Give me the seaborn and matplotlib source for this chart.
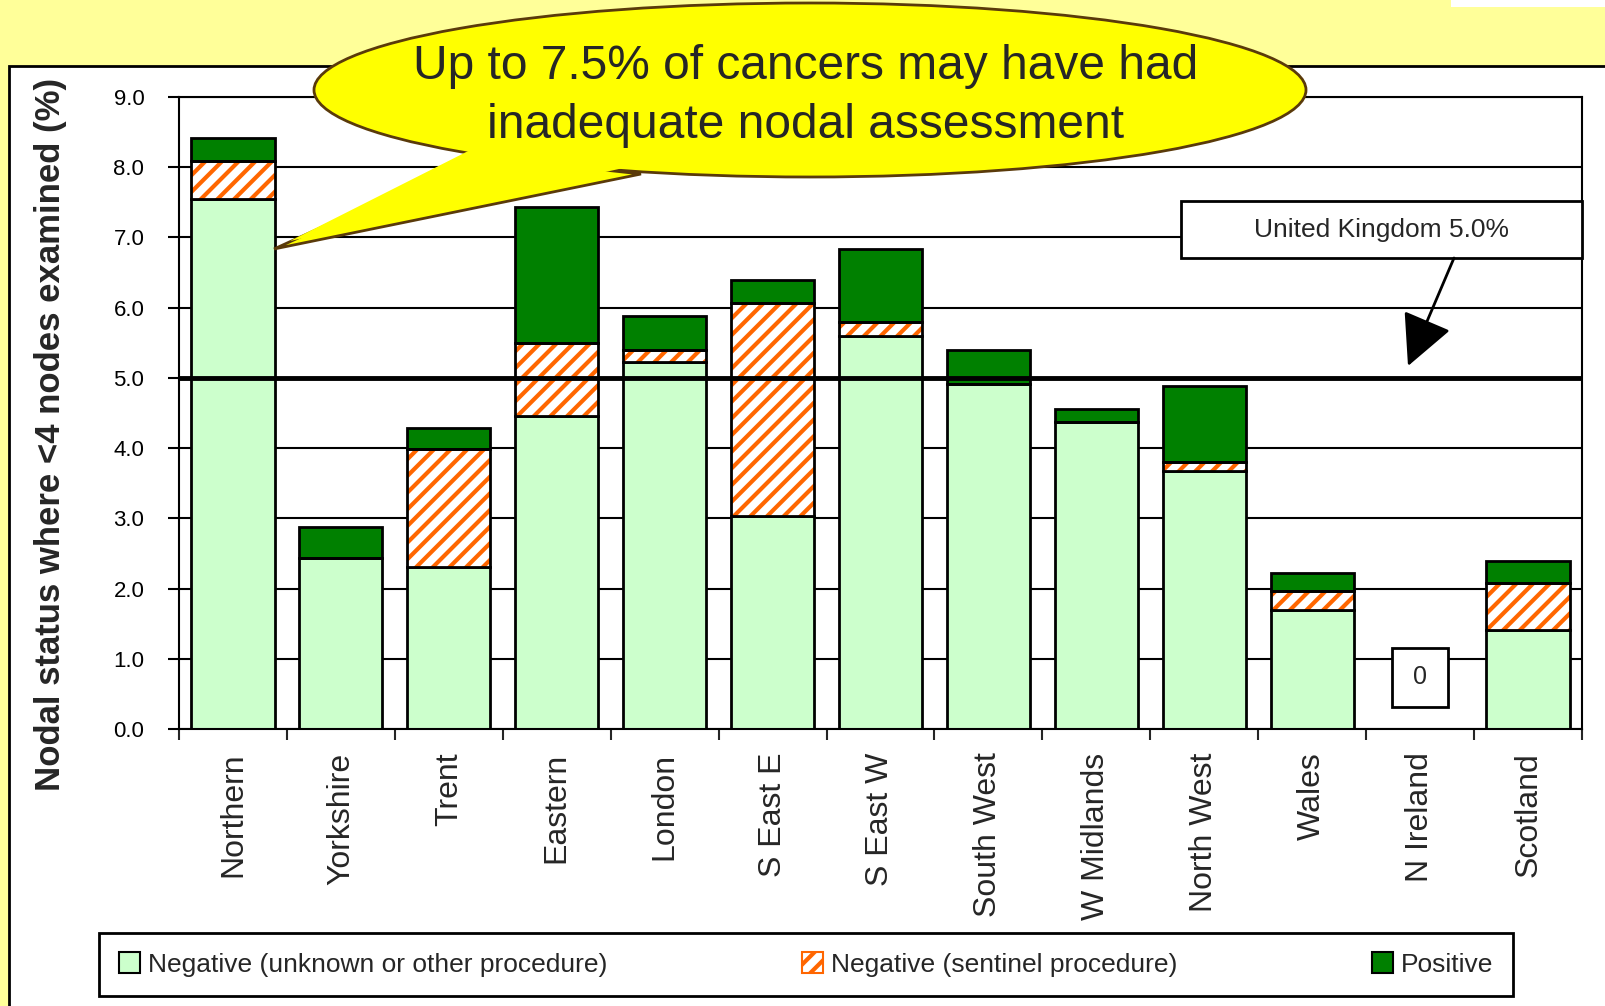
import numpy as np
import matplotlib
matplotlib.use("Agg")
import matplotlib.pyplot as plt
import matplotlib.patches as mpatches
from matplotlib.transforms import Affine2D
import seaborn as sns

regions = ["Northern", "Yorkshire", "Trent", "Eastern", "London", "S East E", "S East W",
           "South West", "W Midlands", "North West", "Wales", "N Ireland", "Scotland"]
neg_other = [7.55, 2.44, 2.31, 4.46, 5.22, 3.03, 5.60, 4.91, 4.37, 3.68, 1.70, 0.0, 1.41]
neg_sentinel = [0.54, 0.0, 1.68, 1.03, 0.18, 3.03, 0.19, 0.0, 0.0, 0.12, 0.26, 0.0, 0.67]
positive = [0.32, 0.43, 0.30, 1.94, 0.48, 0.34, 1.04, 0.49, 0.18, 1.08, 0.26, 0.0, 0.31]
uk_rate = 5.0
series_names = ["Negative (unknown or other procedure)", "Negative (sentinel procedure)", "Positive"]
y_ticks = [0, 1, 2, 3, 4, 5, 6, 7, 8, 9]

sns.set_theme(style="white")
plt.rcParams['font.family'] = ['Liberation Sans', 'DejaVu Sans']
plt.rcParams['hatch.linewidth'] = 3.0

LIGHT = '#CCFFCC'
DARK = '#008000'
ORANGE = '#FF6600'
W, H = 1606, 1006

fig = plt.figure(figsize=(W / 100, H / 100), dpi=100, facecolor='#FFFF99')
# pixel coordinates, origin top-left
px = Affine2D().scale(1 / W, -1 / H).translate(0, 1) + fig.transFigure

# white panel behind the chart
fig.patches.append(mpatches.Rectangle((9, 66), 1700, 1100, transform=px, fc='white',
                                      ec='black', lw=2, zorder=-1))
fig.patches.append(mpatches.Rectangle((1451, -5), 200, 12, transform=px, fc='white',
                                      ec='none', zorder=-1))

ax = fig.add_axes([179 / W, 1 - 729 / H, (1582 - 179) / W, (729 - 97) / H])
ax.set_facecolor('white')

bar_w = 0.77
sent_bottom = np.array(neg_other)
pos_bottom = np.array(neg_other) + np.array(neg_sentinel)

sns.barplot(x=regions, y=neg_other, color=LIGHT, saturation=1, width=bar_w,
            edgecolor='black', linewidth=2, errorbar=None, ax=ax, zorder=2)
sns.barplot(x=regions, y=neg_sentinel, bottom=sent_bottom, color='white', saturation=1,
            width=bar_w, edgecolor=ORANGE, linewidth=0, hatch='//', errorbar=None,
            ax=ax, zorder=2)
sns.barplot(x=regions, y=neg_sentinel, bottom=sent_bottom, color='black', fill=False,
            width=bar_w, linewidth=2, errorbar=None, ax=ax, zorder=3)
sns.barplot(x=regions, y=positive, bottom=pos_bottom, color=DARK, saturation=1,
            width=bar_w, edgecolor='black', linewidth=2, errorbar=None, ax=ax, zorder=2)

ax.axhline(uk_rate, color='black', lw=3.5, zorder=6)

ax.set_xlim(-0.5, len(regions) - 0.5)
ax.set_ylim(0, 9)
ax.set_xlabel('')
ax.set_ylabel('')
ax.set_axisbelow(True)
ax.yaxis.grid(True, color='black', lw=1.5)
ax.xaxis.grid(False)
for s in ax.spines.values():
    s.set_visible(True)
    s.set_color('black')
    s.set_linewidth(1.5)

ax.set_yticks(y_ticks, [f"{v:.1f}" for v in y_ticks])
ax.tick_params(axis='y', direction='out', length=8, width=1.5, labelsize=16, pad=17,
               left=True, colors='black')
ax.set_xticks(range(len(regions)), regions, rotation=90)
ax.set_xticks(np.arange(-0.5, len(regions)), minor=True)
ax.tick_params(axis='x', which='major', length=0, labelsize=23, pad=17)
ax.tick_params(axis='x', which='minor', direction='out', length=8, width=1.5, bottom=True)

# N Ireland zero label
ax.add_patch(mpatches.Rectangle((10.74, 0.32), 0.52, 0.83, fc='white', ec='black',
                                lw=2, zorder=4))
ax.text(11, 0.735, "0", ha='center', va='center', fontsize=18, zorder=5)

fig.text(51 / W, 1 - 434 / H, "Nodal status where <4 nodes examined (%)", rotation=90,
         ha='center', va='center', fontsize=25, fontweight='bold')

# UK reference box and arrow
fig.patches.append(mpatches.Rectangle((1181, 201), 401, 57, transform=px, fc='white',
                                      ec='black', lw=2, zorder=5))
fig.text(1382 / W, 1 - 229.5 / H, "United Kingdom 5.0%", ha='center', va='center',
         fontsize=19, zorder=6)
fig.patches.append(mpatches.FancyArrowPatch((1454, 258), (1408, 366), transform=px,
                                            arrowstyle='-|>,head_length=0.8,head_width=0.4',
                                            mutation_scale=40, color='black', lw=2,
                                            shrinkA=0, shrinkB=0, zorder=6))

# callout bubble
edge = '#5A3A0A'
tail = [(478, 156), (274, 249), (641, 174)]
fig.patches.append(mpatches.Polygon(tail, closed=True, transform=px, fc='#FFFF00',
                                    ec=edge, lw=2, zorder=7))
fig.patches.append(mpatches.Ellipse((810, 90), 992, 174, transform=px, fc='#FFFF00',
                                    ec=edge, lw=2, zorder=8))
fig.patches.append(mpatches.Polygon([(490, 140), (290, 241), (660, 160)], closed=True,
                                    transform=px, fc='#FFFF00', ec='none', zorder=9))
fig.text(806 / W, 1 - 96 / H, "Up to 7.5% of cancers may have had\ninadequate nodal assessment",
         ha='center', va='center', fontsize=34.5, linespacing=1.38, zorder=10)

handles = [mpatches.Patch(fc=LIGHT, ec='black', lw=1.5),
           mpatches.Patch(fc='white', ec=ORANGE, hatch='//', lw=1.5),
           mpatches.Patch(fc=DARK, ec='black', lw=1.5)]
leg = fig.legend(handles, series_names, loc='center', ncol=3, mode='expand',
                 bbox_to_anchor=(99 / W, 1 - 997 / H, (1513 - 99) / W, 65 / H),
                 fontsize=19, frameon=True, fancybox=False, framealpha=1, edgecolor='black',
                 handlelength=0.8, handleheight=0.8, handletextpad=0.3, borderpad=0.75,
                 borderaxespad=0)
leg.get_frame().set_linewidth(2)

fig.savefig("out.png", dpi=100, facecolor=fig.get_facecolor())
